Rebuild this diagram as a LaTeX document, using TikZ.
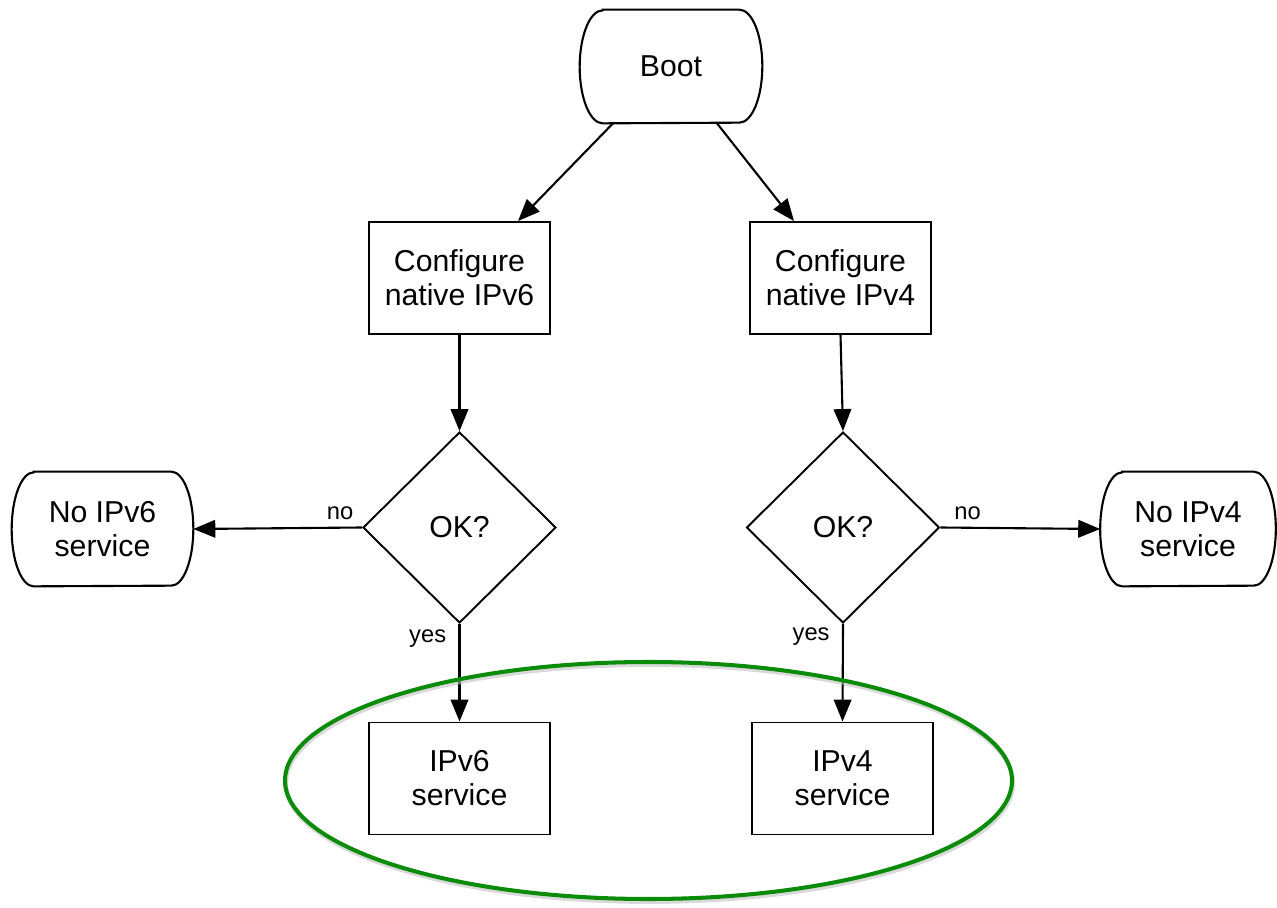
\documentclass[tikz,border=0pt]{standalone}
\usepackage{fontspec}
\setmainfont{Liberation Sans}
\usetikzlibrary{shapes.geometric,arrows.meta}
\definecolor{ovalgreen}{RGB}{10,140,10}
\newcommand{\drawterm}[3]{% node, x radius, y radius (px units)
  \draw[termline] ([xshift=#2*0.02cm]#1.north west) -- ([xshift=-#2*0.02cm]#1.north east)
    arc[start angle=90,end angle=-90,x radius=#2,y radius=#3]
    -- ([xshift=#2*0.02cm]#1.south west)
    arc[start angle=270,end angle=90,x radius=#2,y radius=#3] -- cycle;}
\begin{document}
\begin{tikzpicture}[x=0.02cm,y=0.02cm,
  termline/.style={line width=1.2pt,black},
  txt/.style={font=\fontsize{17.2}{19.4}\selectfont,align=center,inner sep=0pt},
  term/.style={txt,draw=none},
  procbox/.style={txt,draw,line width=1.1pt,minimum width=3.62cm,minimum height=2.24cm},
  decision/.style={txt,draw,diamond,line width=1.1pt,minimum width=3.86cm,minimum height=3.82cm},
  arr/.style={line width=1.2pt,-{Triangle[length=12.5pt,width=10pt]}},
  lbl/.style={font=\fontsize{13.5}{16}\selectfont,inner sep=1pt}]
\useasboundingbox (0,0) rectangle (1277,-908);

\node[term,minimum width=3.64cm,minimum height=2.26cm] (boot) at (671,-66.5) {Boot};
\drawterm{boot}{23}{56.5}

\node[procbox] (c6) at (459.5,-278) {Configure\\native IPv6};
\node[procbox] (c4) at (840.5,-278) {Configure\\native IPv4};

\node[decision] (d6) at (459.5,-527.5) {OK?};
\node[decision] (d4) at (843,-527.5) {OK?};

\node[term,minimum width=3.62cm,minimum height=2.28cm] (n6) at (102.5,-529) {No IPv6\\service};
\drawterm{n6}{22}{57}
\node[term,minimum width=3.5cm,minimum height=2.28cm] (n4) at (1188,-529) {No IPv4\\service};
\drawterm{n4}{22}{57}

\node[procbox] (s6) at (459.5,-778.5) {IPv6\\service};
\node[procbox] (s4) at (842.5,-778.5) {IPv4\\service};

\draw[arr] ([xshift=-58*0.02cm]boot.south) -- ([xshift=58.5*0.02cm]c6.north);
\draw[arr] ([xshift=46*0.02cm]boot.south) -- ([xshift=-46.5*0.02cm]c4.north);
\draw[arr] (c6.south) -- (d6.north);
\draw[arr] (c4.south) -- (d4.north);
\draw[arr] (d6.west) -- (n6.east) node[lbl,pos=0.13,above=3pt] {no};
\draw[arr] (d4.east) -- (n4.west) node[lbl,pos=0.17,above=3pt] {no};
\draw[arr] (d6.south) -- (s6.north) node[lbl,pos=0.15,left=6pt] {yes};
\draw[arr] (d4.south) -- (s4.north) node[lbl,pos=0.13,left=6pt] {yes};

\node[draw=none,ellipse,minimum width=14.54cm,minimum height=4.74cm] (oval) at (648.5,-780.5) {};
\draw[line width=2.6pt,black!25,opacity=0.6] ([xshift=0.5pt,yshift=-1.5pt]oval.center) ellipse[x radius=363.5,y radius=118.5];
\draw[line width=2.3pt,ovalgreen] (oval.center) ellipse[x radius=363.5,y radius=118.5];
\end{tikzpicture}
\end{document}
